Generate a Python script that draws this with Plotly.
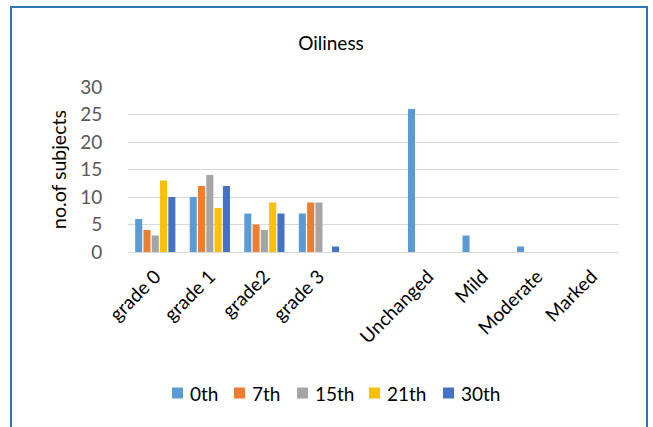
import plotly.graph_objects as go

# Oiliness grading per visit, plus overall change categories
categories = ["grade 0", "grade 1", "grade2", "grade 3", " ",
              "Unchanged", "Mild", "Moderate", "Marked"]

series_names = ["0th", "7th", "15th", "21th", "30th"]
series_colors = ["#5B9BD5", "#ED7D31", "#A5A5A5", "#FFC000", "#4472C4"]

v_0th = [6, 10, 7, 7, None, 26, 3, 1, 0]
v_7th = [4, 12, 5, 9, None, None, None, None, None]
v_15th = [3, 14, 4, 9, None, None, None, None, None]
v_21th = [13, 8, 9, 0, None, None, None, None, None]
v_30th = [10, 12, 7, 1, None, None, None, None, None]

y_ticks = [0, 5, 10, 15, 20, 25, 30]

all_values = [v_0th, v_7th, v_15th, v_21th, v_30th]

FONT = "Lato, 'Open Sans', sans-serif"

fig = go.Figure()
for name, color, vals in zip(series_names, series_colors, all_values):
    fig.add_trace(go.Bar(
        x=categories, y=vals, name=name, showlegend=False,
        marker=dict(color=color, line=dict(width=0)),
    ))

# plot area: x 128..619, y 87..252 of a 653x427 canvas
L, R, T, B = 128, 34, 87, 175
W, H = 653, 427
pw, ph = W - L - R, H - T - B


def px_x(x):
    return (x - L) / pw


def px_y(y):
    return (H - B - y) / ph


shapes = [dict(type="rect", xref="paper", yref="paper",
               x0=px_x(11), x1=px_x(647), y0=px_y(460), y1=px_y(7),
               line=dict(color="#2E75B6", width=2),
               fillcolor="rgba(0,0,0,0)", layer="below")]
annotations = []

# legend row below the axis: swatch left edges (px) and vertical centre
legend_swatch_x = [172, 234, 297, 369, 443]
legend_y = 393
for name, color, sx in zip(series_names, series_colors, legend_swatch_x):
    shapes.append(dict(type="rect", xref="paper", yref="paper",
                       x0=px_x(sx), x1=px_x(sx + 11),
                       y0=px_y(legend_y + 5.5), y1=px_y(legend_y - 5.5),
                       line=dict(width=0), fillcolor=color))
    annotations.append(dict(text=name, xref="paper", yref="paper",
                            x=px_x(sx + 16), y=px_y(legend_y),
                            xanchor="left", yanchor="middle",
                            showarrow=False,
                            font=dict(size=19, color="#000000", family=FONT)))

fig.update_layout(
    width=W, height=H,
    margin=dict(l=L, r=R, t=T, b=B, pad=0),
    paper_bgcolor="white", plot_bgcolor="white",
    barmode="group", bargap=0.24, bargroupgap=0.15,
    font=dict(family=FONT, color="#000000"),
    title=dict(text="Oiliness", x=331 / W, xanchor="center",
               y=1 - 43 / H, yanchor="middle",
               font=dict(size=19, color="#000000", family=FONT)),
    showlegend=False,
    shapes=shapes,
    annotations=annotations,
)

fig.update_xaxes(
    type="category", categoryorder="array", categoryarray=categories,
    tickangle=-45, showgrid=False, showline=False, zeroline=False,
    ticks="outside", ticklen=5, tickcolor="rgba(0,0,0,0)",
    tickfont=dict(size=19, color="#000000", family=FONT),
)
fig.update_yaxes(
    range=[0, 30], tickvals=y_ticks, showgrid=True, gridcolor="#D9D9D9",
    gridwidth=1.3, zeroline=True, zerolinecolor="#D9D9D9", zerolinewidth=1.3,
    showline=False, ticks="outside", ticklen=21, tickcolor="rgba(0,0,0,0)",
    tickfont=dict(size=19, color="#595959", family=FONT),
    title=dict(text="no.of subjects", standoff=8,
               font=dict(size=19.5, color="#000000", family=FONT)),
)

fig.write_html("out.html")
